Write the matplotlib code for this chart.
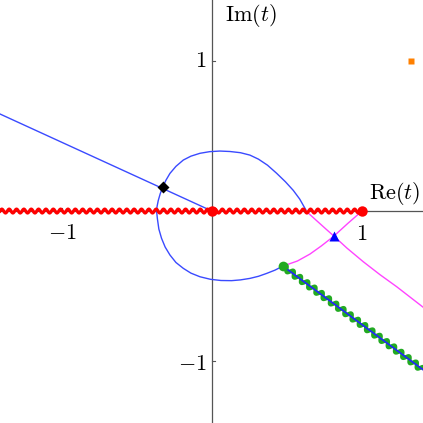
import numpy as np
import matplotlib
matplotlib.use("Agg")
import matplotlib.pyplot as plt

plt.rcParams['mathtext.fontset'] = 'cm'
plt.rcParams['font.family'] = ['DejaVu Serif']

# ---- data ----
# straight blue ray ending at the origin
ray_x = [-1.413, 0.0]
ray_y = [0.647, 0.0]

# blue loop (from green point, through bottom/left/top to the real axis)
loop_x = [0.473, 0.42, 0.364, 0.31, 0.253, 0.19, 0.131, 0.06, -0.01, -0.08, -0.14, -0.191, -0.24,
          -0.28, -0.312, -0.336, -0.354, -0.364, -0.369, -0.366, -0.358, -0.345, -0.329, -0.307,
          -0.28, -0.24, -0.191, -0.14, -0.08, -0.015, 0.053, 0.12, 0.19, 0.253, 0.31, 0.37,
          0.431, 0.49, 0.542, 0.585, 0.627]
loop_y = [-0.367, -0.394, -0.416, -0.435, -0.449, -0.459, -0.464, -0.463, -0.455, -0.438, -0.414,
          -0.382, -0.343, -0.293, -0.24, -0.182, -0.12, -0.049, 0.0, 0.03, 0.07, 0.115, 0.158,
          0.205, 0.251, 0.298, 0.34, 0.366, 0.385, 0.396, 0.4, 0.397, 0.389, 0.373, 0.346, 0.306,
          0.252, 0.195, 0.138, 0.08, 0.006]

# magenta continuation of the loop across the cut
mag1_x = [0.627, 0.70, 0.76, 0.813, 0.90, 1.009, 1.12, 1.231, 1.32, 1.409]
mag1_y = [0.0, -0.066, -0.12, -0.167, -0.247, -0.338, -0.424, -0.504, -0.573, -0.642]

# magenta from branch point 1 to the green point
mag2_x = [1.0, 0.905, 0.813, 0.73, 0.653, 0.57, 0.473]
mag2_y = [0.0, -0.083, -0.167, -0.232, -0.287, -0.333, -0.367]

# green cut with blue line
gcut_x = [0.473, 1.41]
gcut_y = [-0.367, -1.06]

# red cut on real axis
rcut_x = [-1.413, 1.0]

branch_pts_x = [0.0, 1.0]
branch_pts_y = [0.0, 0.0]
green_pt = (0.473, -0.367)
diamond_pt = (-0.329, 0.158)
triangle_pt = (0.813, -0.167)
square_pt = (1.33, 1.0)

xlim = (-1.413, 1.407)
ylim = (-1.413, 1.407)


def wavy(ax, x0, y0, x1, y1, wavelength, amp, **kw):
    L = np.hypot(x1 - x0, y1 - y0)
    s = np.linspace(0, L, int(L / wavelength * 24) + 2)
    ux, uy = (x1 - x0) / L, (y1 - y0) / L
    nx, ny = -uy, ux
    off = amp * np.sin(2 * np.pi * s / wavelength)
    ax.plot(x0 + ux * s + nx * off, y0 + uy * s + ny * off, **kw)


fig = plt.figure(figsize=(4.23, 4.23), dpi=100)
ax = fig.add_axes([0, 0, 1, 1])
ax.set_xlim(*xlim)
ax.set_ylim(*ylim)
ax.set_aspect('equal')
for s in ax.spines.values():
    s.set_visible(False)
ax.set_xticks([])
ax.set_yticks([])

axcol = '#555555'
ax.axhline(0, color=axcol, lw=0.9, zorder=1)
ax.axvline(0, color=axcol, lw=0.9, zorder=1)
# tick marks
for t in [-1, 1]:
    ax.plot([t, t], [0, 0.022], color=axcol, lw=0.8, zorder=1)
    ax.plot([0, 0.022], [t, t], color=axcol, lw=0.8, zorder=1)

blue = '#3a4aff'
mag = '#ff44ff'
ax.plot(ray_x, ray_y, color=blue, lw=1.0, zorder=3)
ax.plot(loop_x, loop_y, color=blue, lw=1.0, zorder=3)
ax.plot(mag1_x, mag1_y, color=mag, lw=1.0, zorder=3)
ax.plot(mag2_x, mag2_y, color=mag, lw=1.0, zorder=3)

wavy(ax, gcut_x[0], gcut_y[0], gcut_x[1], gcut_y[1], 0.06, 0.017,
     color='#22aa22', lw=3.0, zorder=4, solid_capstyle='round')
ax.plot(gcut_x, gcut_y, color='#2222ff', lw=1.2, zorder=5)

wavy(ax, rcut_x[0], 0.0, rcut_x[1], 0.0, 0.049, 0.013,
     color='#ff0000', lw=2.3, zorder=6)

ax.plot(branch_pts_x, branch_pts_y, 'o', color='#ff0000', ms=7.5, mec='none', zorder=8)
ax.plot(*green_pt, 'o', color='#22aa22', ms=7, mec='none', zorder=8)
ax.plot(*diamond_pt, 'D', color='black', ms=6, mec='none', zorder=8)
ax.plot(*triangle_pt, '^', color='#0000ff', ms=7, mec='none', zorder=8)
ax.plot(*square_pt, 's', color='#ff8000', ms=5, mec='none', zorder=8)

fs = 16
ax.text(-1.0, -0.145, r'$-1$', ha='center', va='center', fontsize=fs)
ax.text(1.0, -0.155, r'$1$', ha='center', va='center', fontsize=fs)
ax.text(-0.035, 1.0, r'$1$', ha='right', va='center', fontsize=fs)
ax.text(-0.035, -1.02, r'$-1$', ha='right', va='center', fontsize=fs)
ax.text(0.087, 1.307, r'$\mathrm{Im}(t)$', ha='left', va='center', fontsize=fs)
ax.text(1.047, 0.12, r'$\mathrm{Re}(t)$', ha='left', va='center', fontsize=fs)

fig.savefig('out.png', dpi=100)
